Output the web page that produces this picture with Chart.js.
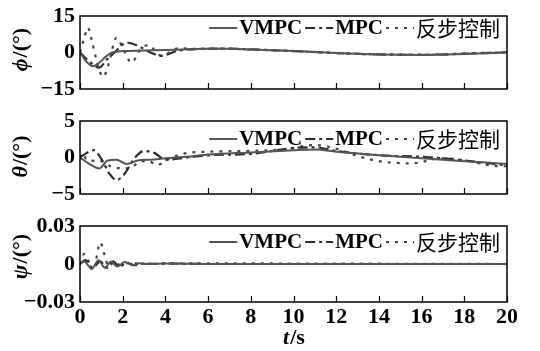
<!DOCTYPE html>
<html>
<head>
<meta charset="utf-8">
<script src="https://cdn.jsdelivr.net/npm/chart.js@4.4.1/dist/chart.umd.min.js"></script>
<style>
  body { margin: 0; background: #fff; }
  #wrap { position: relative; width: 540px; height: 351px; background: #fff; }
  #wrap canvas { position: absolute; left: 0; }
</style>
</head>
<body>
<div id="wrap">
  <canvas id="cPhi" width="540" height="105" style="top:0px"></canvas>
  <canvas id="cTheta" width="540" height="105" style="top:105px"></canvas>
  <canvas id="cPsi" width="540" height="141" style="top:210px"></canvas>
</div>
<script>
// axis ticks
const timeTicks = [0, 2, 4, 6, 8, 10, 12, 14, 16, 18, 20];
const phiTicks = [-15, 0, 15];
const thetaTicks = [-5, 0, 5];
const psiTicks = [-0.03, 0, 0.03];

const seriesNames = ['VMPC', 'MPC', '反步控制'];

// roll angle, deg
const tPhiVmpc = [0, 0.35, 0.6, 0.9, 1.2, 1.5, 2, 3, 4, 5, 6, 7, 8, 10, 12, 14, 16, 18, 20];
const phiVmpc  = [0, -4.2, -5.6, -4.2, -1.8, 0, 0.6, 0.8, 1.0, 1.3, 1.5, 1.5, 1.2, 0.6, -0.2, -0.8, -1.0, -0.6, 0];
const tPhiMpc  = [0, 0.35, 0.9, 1.25, 1.62, 2.0, 2.25, 2.8, 3.35, 3.8, 4.5, 5, 6, 7, 8, 10, 12, 14, 16, 18, 20];
const phiMpc   = [0, -3, -6.2, -3, 0, 3.3, 4, 2.3, -0.2, -1.4, 0.5, 1.2, 1.5, 1.6, 1.3, 0.6, -0.2, -0.8, -1.0, -0.5, 0.1];
const tPhiBs   = [0, 0.2, 0.37, 0.55, 0.8, 1.08, 1.35, 1.7, 2.1, 2.4, 2.85, 3.2, 3.8, 4.6, 5.5, 6.5, 8, 10, 12, 14, 16, 18, 20];
const phiBs    = [0, 6, 10.2, 5, -4, -10, -4.5, 6, 0, -4.2, 1.5, 3, -1.3, 1.7, 1.5, 1.6, 1.2, 0.6, -0.3, -0.8, -0.9, -0.4, 0.1];

// pitch angle, deg
const tThetaVmpc = [0, 0.4, 0.9, 1.3, 1.7, 2.2, 2.7, 3.3, 4, 5, 6, 8, 10, 11, 12, 14, 16, 18, 20];
const thetaVmpc  = [0, -0.8, -1.5, -0.4, -0.3, -0.9, -0.4, -0.3, -0.1, 0.1, 0.4, 0.7, 1.0, 1.1, 0.8, 0.3, -0.1, -0.5, -0.9];
const tThetaMpc  = [0, 0.3, 0.65, 1.0, 1.4, 1.7, 2.1, 2.5, 3.0, 3.5, 4, 5, 6, 8, 10, 11, 12, 14, 16, 18, 20];
const thetaMpc   = [0, 0.6, 1.0, -0.2, -2.3, -3.1, -2.2, -0.3, 0.9, 0.6, -0.3, 0, 0.3, 0.5, 1.3, 1.4, 0.9, 0.3, 0.1, -0.4, -1.1];
const tThetaBs   = [0, 0.15, 0.3, 1.0, 1.5, 2.3, 2.8, 3.2, 3.6, 4.3, 5, 6, 8, 9.5, 11, 12, 13, 14, 15.5, 17, 18, 19.7, 20];
const thetaBs    = [0, 0.6, -0.3, -0.5, -1.3, -1.5, -0.6, -0.5, -1.0, 0, 0.6, 0.8, 0.9, 1.1, 1.7, 1.2, 0.2, -0.5, -0.8, -0.1, -0.4, -1.2, -1.2];

// yaw angle, deg
const tPsiVmpc = [0, 0.2, 0.55, 0.86, 1.17, 1.45, 1.75, 2.1, 2.45, 2.8, 3.2, 4, 6, 20];
const psiVmpc  = [0, 0.002, -0.004, 0.003, -0.003, 0.002, -0.002, 0.0015, -0.001, 0.0005, 0, 0.0003, 0, 0];
const tPsiMpc  = [0, 0.25, 0.6, 0.95, 1.25, 1.55, 1.85, 2.2, 2.55, 3, 3.5, 4, 6, 20];
const psiMpc   = [0, 0.003, -0.003, 0.002, -0.003, 0.002, -0.002, 0.001, -0.001, 0.0005, 0, 0.0003, 0, 0];
const tPsiBs   = [0, 0.2, 0.45, 0.65, 0.95, 1.15, 1.35, 1.6, 1.9, 2.3, 3, 4, 20];
const psiBs    = [0, 0.008, 0.001, -0.002, 0.017, 0.007, -0.002, 0.002, -0.001, 0.001, 0, 0.0005, 0];

const SERIF = '"Liberation Serif", "Times New Roman", serif';
const CJK = '"Noto Sans CJK SC", sans-serif';

const styles = [
  { borderColor: '#555555', borderWidth: 2, borderDash: [] },
  { borderColor: '#2b2b2b', borderWidth: 2.2, borderDash: [10, 4, 3, 4] },
  { borderColor: '#444444', borderWidth: 2.2, borderDash: [3, 6] }
];

function pts(ts, vs) {
  return ts.map((t, i) => ({ x: t, y: vs[i] }));
}

function fmt(v) {
  return (v < 0 ? '−' : '') + Math.abs(v);
}

// draws text made of an italic symbol and an upright tail
function mixedText(ctx, sym, tail, x, y, rotate) {
  ctx.save();
  ctx.translate(x, y);
  if (rotate) ctx.rotate(-Math.PI / 2);
  ctx.textBaseline = 'middle';
  ctx.textAlign = 'left';
  ctx.fillStyle = '#000';
  const fSym = 'italic bold 22px ' + SERIF;
  const fTail = 'bold 22px ' + SERIF;
  ctx.font = fSym;
  const w1 = ctx.measureText(sym).width;
  ctx.font = fTail;
  const w2 = ctx.measureText(tail).width;
  const x0 = -(w1 + w2) / 2;
  ctx.font = fSym;
  ctx.fillText(sym, x0, 0);
  ctx.font = fTail;
  ctx.fillText(tail, x0 + w1 + 1, 0);
  ctx.restore();
}

const framePlugin = {
  id: 'frame',
  afterDatasetsDraw(chart, args, opts) {
    const ctx = chart.ctx;
    const a = chart.chartArea;
    const xs = chart.scales.x;

    // box round the plot and inward ticks along the bottom
    ctx.save();
    ctx.strokeStyle = '#000';
    ctx.lineWidth = 1.5;
    ctx.strokeRect(a.left, a.top, a.right - a.left, a.bottom - a.top);
    ctx.lineWidth = 1.2;
    ctx.beginPath();
    timeTicks.forEach(t => {
      const px = Math.round(xs.getPixelForValue(t)) + 0.5;
      ctx.moveTo(px, a.bottom);
      ctx.lineTo(px, a.bottom - 6);
    });
    ctx.stroke();

    // legend in the top right corner
    const lineLen = 28;
    const cy = a.top + opts.legendDy;
    let x = a.right - 7;
    for (let i = seriesNames.length - 1; i >= 0; i--) {
      const name = seriesNames[i];
      const isCjk = /[\u4e00-\u9fff]/.test(name);
      ctx.font = isCjk ? '21px ' + CJK : 'bold 21px ' + SERIF;
      const w = ctx.measureText(name).width;
      x -= w;
      ctx.fillStyle = '#000';
      ctx.textAlign = 'left';
      ctx.textBaseline = 'middle';
      ctx.fillText(name, x, cy + (isCjk ? 0 : 1));
      x -= 2;
      const ds = chart.data.datasets[i];
      ctx.strokeStyle = ds.borderColor;
      ctx.lineWidth = ds.borderWidth;
      ctx.setLineDash(ds.borderDash);
      ctx.beginPath();
      ctx.moveTo(x - lineLen, cy);
      ctx.lineTo(x, cy);
      ctx.stroke();
      ctx.setLineDash([]);
      x -= lineLen + 3;
    }
    ctx.restore();

    mixedText(ctx, opts.sym, '/(°)', 21, opts.titleY, true);
    if (opts.xTitle) {
      mixedText(ctx, 't', '/s', (a.left + a.right) / 2, opts.xTitle, false);
    }
  }
};

function makePanel(id, series, yTicks, pad, frameOpts, showX) {
  const datasets = series.map((s, i) => Object.assign({
    label: seriesNames[i],
    data: s,
    pointRadius: 0,
    fill: false,
    cubicInterpolationMode: 'monotone'
  }, styles[i]));

  return new Chart(document.getElementById(id), {
    type: 'line',
    data: { datasets },
    plugins: [framePlugin],
    options: {
      responsive: false,
      animation: false,
      layout: { padding: pad },
      plugins: {
        legend: { display: false },
        tooltip: { enabled: false },
        frame: frameOpts
      },
      scales: {
        x: {
          type: 'linear',
          min: 0,
          max: 20,
          display: showX,
          grid: { display: false, drawTicks: false },
          border: { display: false },
          afterBuildTicks: s => { s.ticks = timeTicks.map(v => ({ value: v })); },
          afterFit: s => { if (showX) s.height = 49; },
          ticks: {
            padding: 4,
            color: '#000',
            maxRotation: 0,
            font: { family: SERIF, size: 22, weight: 'bold', lineHeight: 1 },
            callback: v => fmt(v)
          }
        },
        y: {
          min: yTicks[0],
          max: yTicks[yTicks.length - 1],
          grid: { display: false, drawTicks: false },
          border: { display: false },
          afterBuildTicks: s => { s.ticks = yTicks.map(v => ({ value: v })); },
          afterFit: s => { s.width = 80; },
          ticks: {
            padding: 5,
            color: '#000',
            font: { family: SERIF, size: 22, weight: 'bold', lineHeight: 1 },
            callback: v => fmt(v)
          }
        }
      }
    }
  });
}

makePanel('cPhi',
  [pts(tPhiVmpc, phiVmpc), pts(tPhiMpc, phiMpc), pts(tPhiBs, phiBs)],
  phiTicks, { top: 13, bottom: 15, left: 0, right: 33 },
  { sym: 'ϕ', titleY: 50, legendDy: 12 }, false);

makePanel('cTheta',
  [pts(tThetaVmpc, thetaVmpc), pts(tThetaMpc, thetaMpc), pts(tThetaBs, thetaBs)],
  thetaTicks, { top: 12, bottom: 14, left: 0, right: 33 },
  { sym: 'θ', titleY: 52, legendDy: 18 }, false);

makePanel('cPsi',
  [pts(tPsiVmpc, psiVmpc), pts(tPsiMpc, psiMpc), pts(tPsiBs, psiBs)],
  psiTicks, { top: 15, bottom: 0, left: 0, right: 33 },
  { sym: 'ψ', titleY: 47, legendDy: 16, xTitle: 128 }, true);
</script>
</body>
</html>
